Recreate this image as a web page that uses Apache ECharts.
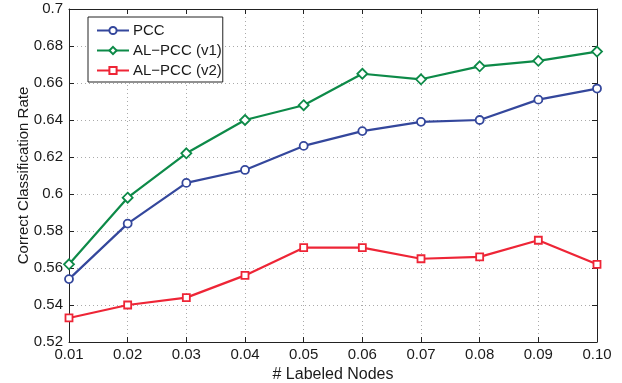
<!DOCTYPE html>
<html><head><meta charset="utf-8">
<script src="https://cdn.jsdelivr.net/npm/echarts@6/dist/echarts.min.js"></script>
<style>html,body{margin:0;padding:0;background:#fff}#c{width:622px;height:383px}</style>
</head><body><div id="c"></div>
<script>
const categories = ['0.01','0.02','0.03','0.04','0.05','0.06','0.07','0.08','0.09','0.10'];
const pcc   = [0.554,0.584,0.606,0.613,0.626,0.634,0.639,0.640,0.651,0.657];
const alv1  = [0.562,0.598,0.622,0.640,0.648,0.665,0.662,0.669,0.672,0.677];
const alv2  = [0.533,0.540,0.544,0.556,0.571,0.571,0.565,0.566,0.575,0.562];
const seriesNames = ['PCC','AL\u2212PCC (v1)','AL\u2212PCC (v2)'];
const yTicks = [0.52,0.54,0.56,0.58,0.6,0.62,0.64,0.66,0.68,0.7];

const colors = ['#34479c','#0d8a48','#ee2536'];
const font = 'Liberation Sans, Arial, sans-serif';
const txt = '#1a1a1a';
const chart = echarts.init(document.getElementById('c'));
const gridLine = {show:true,lineStyle:{color:'#aaa',type:[1,3],width:1}};
const axisLine = {show:true,onZero:false,lineStyle:{color:'#222',width:1}};
const tick = {show:true,inside:true,length:5,lineStyle:{color:'#222'}};
function mk(name,data,color,symbol,size){
  return {name,type:'line',data,symbol,symbolSize:size,showAllSymbol:true,
    lineStyle:{color,width:2.2},itemStyle:{color:'#fff',borderColor:color,borderWidth:1.8},
    emphasis:{disabled:true},animation:false,z:3};
}
chart.setOption({
  animation:false,
  textStyle:{fontFamily:font},
  grid:{left:69,right:25,top:9,bottom:41,containLabel:false,outerBoundsMode:'none'},
  legend:{show:true,orient:'vertical',left:88,top:17,
    backgroundColor:'#fff',borderColor:'#222',borderWidth:1,padding:[6,1,4,8],
    itemWidth:32,itemHeight:9,itemGap:5,
    textStyle:{fontSize:15,color:txt,fontFamily:font,padding:[0,0,0,-1]},
    data:seriesNames},
  xAxis:[
    {type:'category',data:categories,boundaryGap:false,position:'bottom',
     axisLine,axisTick:{...tick,alignWithLabel:true},splitLine:gridLine,
     axisLabel:{fontSize:15,color:txt,margin:5,fontFamily:font},
     name:'# Labeled Nodes',nameLocation:'middle',nameGap:25,nameMoveOverlap:false,
     nameTextStyle:{fontSize:16,color:txt,fontFamily:font}},
    {type:'category',data:categories,boundaryGap:false,position:'top',
     axisLine,axisTick:tick,axisLabel:{show:false},splitLine:{show:false}}
  ],
  yAxis:[
    {type:'value',min:0.52,max:0.7,interval:0.02,position:'left',
     axisLine,axisTick:tick,splitLine:gridLine,
     axisLabel:{fontSize:15,color:txt,margin:6,fontFamily:font,
       formatter:v=>{const t=yTicks.find(x=>Math.abs(x-v)<1e-9);return t===undefined?'':String(t);}},
     name:'Correct Classification Rate',nameLocation:'middle',nameGap:38,nameMoveOverlap:false,
     nameTextStyle:{fontSize:15,color:txt,fontFamily:font}},
    {type:'value',min:0.52,max:0.7,interval:0.02,position:'right',
     axisLine,axisTick:tick,axisLabel:{show:false},splitLine:{show:false}}
  ],
  series:[
    mk(seriesNames[0],pcc,colors[0],'circle',8),
    mk(seriesNames[1],alv1,colors[1],'diamond',10),
    mk(seriesNames[2],alv2,colors[2],'rect',7)
  ]
});
</script></body></html>
